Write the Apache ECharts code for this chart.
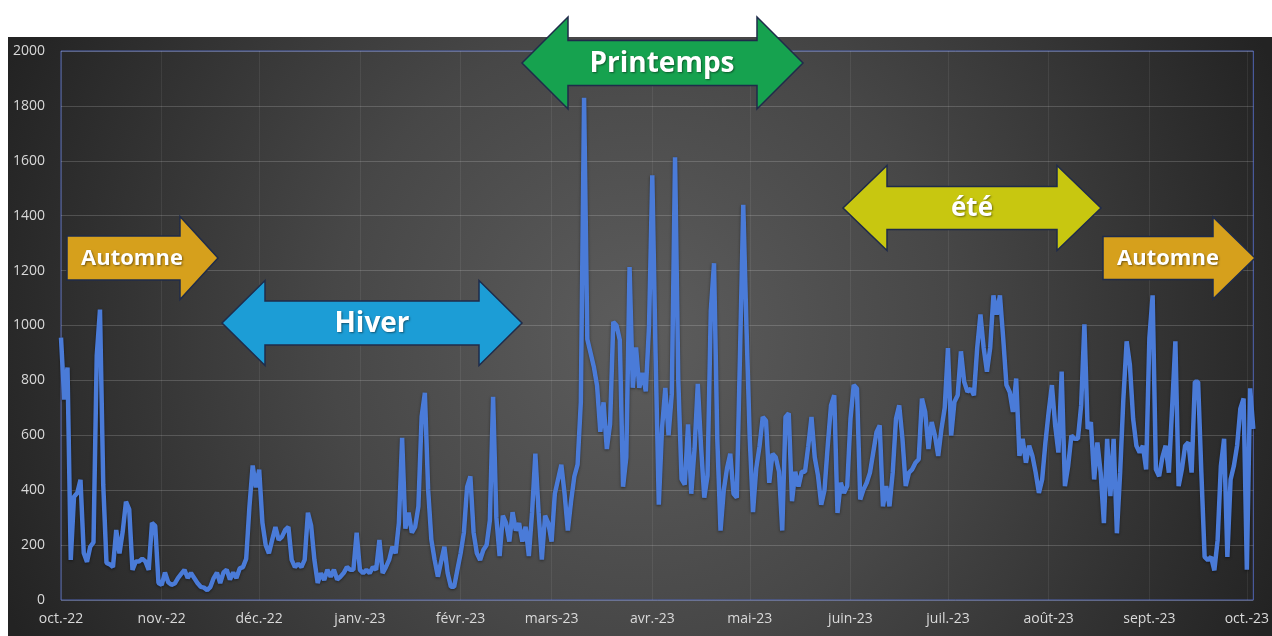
<!DOCTYPE html>
<html>
<head>
<meta charset="utf-8">
<title>Saisons</title>
<script src="https://cdn.jsdelivr.net/npm/echarts@6/dist/echarts.min.js"></script>
<style>
    html, body { margin: 0; padding: 0; background: #ffffff; }
    #SeasonChart { width: 1272px; height: 636px; }
</style>
</head>
<body>
<div id="SeasonChart"></div>
<script>
//valeurs journalières, une liste par mois
var oct22 = [956, 730, 847, 146, 376, 390, 438, 171, 139, 194, 210, 890, 1058, 420, 135, 130, 120, 255, 170, 250, 358, 330, 110, 140, 140, 150, 140, 110, 281, 270, 62];
var nov22 = [55, 100, 65, 55, 60, 80, 95, 110, 80, 98, 80, 62, 48, 45, 36, 48, 80, 100, 62, 100, 110, 75, 100, 80, 115, 120, 150, 340, 490, 410];
var dec22 = [475, 281, 200, 170, 219, 266, 219, 230, 255, 266, 146, 120, 132, 120, 146, 318, 270, 146, 62, 98, 73, 110, 85, 110, 75, 85, 98, 120, 110, 110, 245];
var jan23 = [110, 98, 110, 98, 120, 110, 219, 98, 120, 146, 194, 170, 281, 591, 260, 318, 245, 266, 340, 668, 755, 402, 219, 146, 85, 140, 194, 98, 48, 48, 110];
var feb23 = [170, 245, 412, 450, 245, 170, 146, 182, 200, 290, 740, 300, 160, 307, 280, 213, 320, 253, 280, 213, 267, 160, 320, 533, 320, 147, 307, 280];
var mar23 = [213, 387, 440, 493, 387, 253, 360, 450, 493, 720, 1830, 950, 900, 850, 780, 613, 720, 550, 640, 1013, 1000, 947, 413, 520, 1213, 773, 920, 773, 827, 760, 1000];
var apr23 = [1547, 900, 347, 627, 773, 600, 750, 1613, 800, 440, 420, 640, 387, 550, 787, 560, 373, 453, 1053, 1227, 587, 253, 400, 480, 533, 387, 373, 900, 1440, 987];
var may23 = [587, 320, 480, 560, 667, 653, 427, 533, 520, 467, 253, 667, 680, 360, 467, 413, 467, 467, 560, 667, 520, 453, 347, 400, 562, 709, 746, 317, 427, 390, 415];
var jun23 = [660, 783, 770, 366, 402, 427, 464, 537, 611, 636, 341, 415, 341, 464, 660, 709, 587, 415, 464, 476, 500, 513, 734, 685, 550, 648, 599, 525, 623, 700];
var jul23 = [918, 599, 721, 746, 906, 795, 758, 770, 746, 918, 1040, 918, 832, 918, 1110, 1040, 1110, 955, 783, 758, 685, 807, 525, 587, 500, 562, 525, 464, 390, 439, 574];
var aug23 = [685, 783, 636, 537, 832, 415, 488, 599, 587, 587, 709, 1004, 623, 648, 439, 574, 464, 280, 587, 378, 587, 243, 464, 734, 942, 857, 660, 562, 537, 562, 476];
var sep23 = [955, 1110, 476, 451, 520, 562, 464, 700, 942, 415, 476, 562, 574, 464, 795, 795, 464, 157, 145, 157, 108, 218, 488, 587, 157, 439, 488, 562, 697, 734];
var oct23 = [110, 771, 623];

var monthLabels = ['oct.-22', 'nov.-22', 'déc.-22', 'janv.-23', 'févr.-23', 'mars-23', 'avr.-23', 'mai-23', 'juin-23', 'juil.-23', 'août-23', 'sept.-23', 'oct.-23'];
var seasonNames = ['Automne', 'Hiver', 'Printemps', 'été', 'Automne'];
var firstDay = Date.UTC(2022, 9, 1);

var values = [].concat(oct22, nov22, dec22, jan23, feb23, mar23, apr23, may23, jun23, jul23, aug23, sep23, oct23);
var days = [];
for (var i = 0; i < values.length; i++) {
    days.push(new Date(firstDay + i * 86400000).toISOString().slice(0, 10));
}

function isMonthStart(idx, day) {
    return day.slice(8, 10) === '01';
}
function monthLabel(day) {
    var y = +day.slice(0, 4), m = +day.slice(5, 7);
    return monthLabels[(y - 2022) * 12 + m - 10];
}

//flèches des saisons (pixels)
var arrows = [
    { left: 67, right: 218, cy: 258, shaft: 44, head: 83, headLen: 38, both: false, color: '#D6A01C', textX: 132, size: 22 },
    { left: 222, right: 522, cy: 323, shaft: 44, head: 85, headLen: 43, both: true, color: '#1C9DD6', textX: 372, size: 28 },
    { left: 522, right: 803, cy: 63, shaft: 45, head: 92, headLen: 46, both: true, color: '#16A24F', textX: 662, size: 28 },
    { left: 843, right: 1101, cy: 208, shaft: 43, head: 85, headLen: 44, both: true, color: '#C8C710', textX: 972, size: 26 },
    { left: 1103, right: 1255, cy: 258, shaft: 43, head: 82, headLen: 42, both: false, color: '#D6A01C', textX: 1168, size: 22 }
];

function arrowPoints(a) {
    var st = a.cy - a.shaft / 2, sb = a.cy + a.shaft / 2;
    var ht = a.cy - a.head / 2, hb = a.cy + a.head / 2;
    var pts = [];
    if (a.both) {
        pts.push([a.left, a.cy], [a.left + a.headLen, ht], [a.left + a.headLen, st]);
    } else {
        pts.push([a.left, st]);
    }
    pts.push([a.right - a.headLen, st], [a.right - a.headLen, ht], [a.right, a.cy],
        [a.right - a.headLen, hb], [a.right - a.headLen, sb]);
    if (a.both) {
        pts.push([a.left + a.headLen, sb], [a.left + a.headLen, hb]);
    } else {
        pts.push([a.left, sb]);
    }
    return pts;
}

var graphics = [
    {
        type: 'rect',
        z: -100,
        silent: true,
        shape: { x: 8, y: 37, width: 1264, height: 599 },
        style: {
            fill: {
                type: 'radial', x: 0.5, y: 0.5, r: 1.15,
                colorStops: [
                    { offset: 0, color: '#5d5d5d' },
                    { offset: 0.45, color: '#474747' },
                    { offset: 1, color: '#232323' }
                ]
            }
        }
    }
];
arrows.forEach(function (a, k) {
    graphics.push({
        type: 'polygon',
        z: 100,
        shape: { points: arrowPoints(a) },
        style: { fill: a.color, stroke: '#1F2B4A', lineWidth: 1.5 }
    });
    graphics.push({
        type: 'text',
        z: 101,
        x: a.textX,
        y: a.cy + 1,
        style: {
            text: seasonNames[k],
            fill: '#ffffff',
            fontFamily: 'Open Sans',
            fontWeight: 'bold',
            fontSize: a.size,
            align: 'center',
            verticalAlign: 'middle',
            textShadowColor: 'rgba(0,0,0,0.45)',
            textShadowBlur: 2,
            textShadowOffsetX: 1,
            textShadowOffsetY: 1
        }
    });
});

var SeasonChart = echarts.init(document.getElementById('SeasonChart'));
var option = {
    animation: false,
    grid: {
        left: 61,
        right: 14,
        top: 51,
        bottom: 36,
        show: true,
        borderColor: '#5064b4',
        borderWidth: 1,
        backgroundColor: 'transparent'
    },
    xAxis: {
        type: 'category',
        boundaryGap: false,
        data: days,
        axisLine: { show: false },
        axisTick: { show: false },
        axisLabel: {
            interval: isMonthStart,
            formatter: monthLabel,
            color: '#d9d9d9',
            fontFamily: 'Open Sans',
            fontSize: 14,
            margin: 12
        },
        splitLine: {
            show: true,
            interval: isMonthStart,
            lineStyle: { color: 'rgba(255,255,255,0.07)', width: 1 }
        }
    },
    yAxis: {
        type: 'value',
        min: 0,
        max: 2000,
        interval: 200,
        axisLine: { show: false },
        axisTick: { show: false },
        axisLabel: {
            formatter: function (v) { return String(v); },
            color: '#d9d9d9',
            fontFamily: 'Open Sans',
            fontSize: 14,
            margin: 16
        },
        splitLine: {
            lineStyle: { color: 'rgba(255,255,255,0.17)', width: 1 }
        }
    },
    series: [
        {
            name: 'valeurs',
            type: 'line',
            data: values,
            showSymbol: false,
            lineStyle: {
                color: '#4a7bd8',
                width: 4.5,
                shadowColor: 'rgba(0,0,0,0.45)',
                shadowBlur: 3,
                shadowOffsetY: 1
            }
        }
    ],
    graphic: graphics
};
SeasonChart.setOption(option);
</script>
</body>
</html>
